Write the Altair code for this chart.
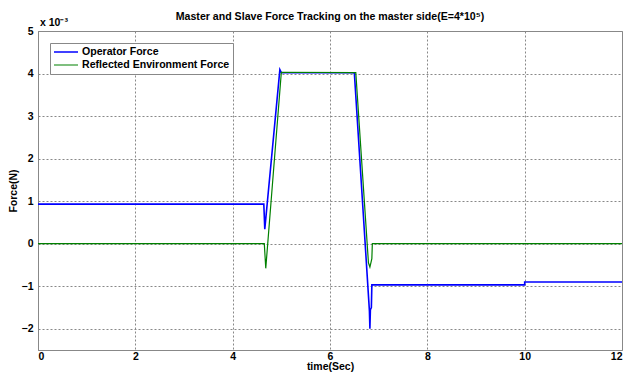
import altair as alt
import pandas as pd

series_names = ["Operator Force", "Reflected Environment Force"]
operator_t = [0.0, 4.64, 4.66, 4.97, 5.00, 6.50, 6.81, 6.82, 6.83, 6.85, 6.86, 10.0, 10.0, 12.0]
operator_f = [0.93, 0.93, 0.34, 4.09, 4.02, 4.02, -1.58, -2.0, -1.55, -1.5, -0.97, -0.97, -0.90, -0.90]
reflected_t = [0.0, 4.65, 4.68, 5.00, 6.53, 6.79, 6.82, 6.86, 6.87, 12.0]
reflected_f = [0.0, 0.0, -0.58, 4.03, 4.02, -0.45, -0.55, -0.35, 0.0, 0.0]
x_ticks = [0, 2, 4, 6, 8, 10, 12]
y_ticks = [-2, -1, 0, 1, 2, 3, 4, 5]

rows = []
for i, (t, f) in enumerate(zip(operator_t, operator_f)):
    rows.append({"t": t, "f": f, "s": series_names[0], "o": i})
for i, (t, f) in enumerate(zip(reflected_t, reflected_f)):
    rows.append({"t": t, "f": f, "s": series_names[1], "o": i})
df = pd.DataFrame(rows)

font = "Liberation Sans"

lines = alt.Chart(df).mark_line(clip=True).encode(
    x=alt.X("t:Q", scale=alt.Scale(domain=[0, 12], nice=False, zero=False),
            axis=alt.Axis(values=x_ticks, title="time(Sec)", grid=True)),
    y=alt.Y("f:Q", scale=alt.Scale(domain=[-2.5, 5], nice=False, zero=False),
            axis=alt.Axis(values=y_ticks, title="Force(N)", grid=True, titleX=-20)),
    color=alt.Color("s:N", scale=alt.Scale(domain=series_names, range=["#0000ff", "#008000"]),
                    legend=alt.Legend(title=None, orient="none", legendX=12, legendY=12,
                                      strokeColor="#888888", fillColor="white",
                                      padding=3, symbolType="stroke", symbolSize=576,
                                      symbolStrokeWidth=1.5, labelFont=font, labelFontSize=10.6,
                                      labelFontWeight="bold", labelColor="black",
                                      clipHeight=12, rowPadding=1, labelOffset=3,
                                      labelLimit=300)),
    strokeWidth=alt.StrokeWidth("s:N", scale=alt.Scale(domain=series_names, range=[1.6, 1.2]),
                                legend=None),
    order="o:Q",
)

exp_label = alt.Chart(pd.DataFrame({"txt": ["x 10\u207b\u00b3"]})).mark_text(
    font=font, fontSize=10.5, fontWeight="bold", align="left", baseline="bottom", color="black"
).encode(text="txt:N", x=alt.value(2), y=alt.value(-3))

chart = alt.layer(lines, exp_label).properties(
    width=584, height=319,
    title=alt.TitleParams("Master and Slave Force Tracking on the master side(E=4*10\u2075)",
                          anchor="middle", frame="group", offset=-5, font=font, fontSize=10.6,
                          fontWeight="bold", color="black"),
    autosize=alt.AutoSizeParams(type="none"),
    padding={"left": 30, "top": 23, "right": 8, "bottom": 22},
).configure_view(stroke="#888888", strokeWidth=1).configure_axis(
    labelFont=font, labelFontSize=10.5, labelFontWeight="bold", labelColor="black",
    titleFont=font, titleFontSize=10.5, titleFontWeight="bold", titleColor="black",
    gridColor="#888888", gridDash=[2, 2], gridOpacity=1, gridWidth=1,
    domainColor="#888888", ticks=False,
).configure_axisX(labelPadding=1, titlePadding=0).configure_axisY(labelPadding=5)

chart.save("out.html", embed_options={"renderer": "svg", "actions": False})
